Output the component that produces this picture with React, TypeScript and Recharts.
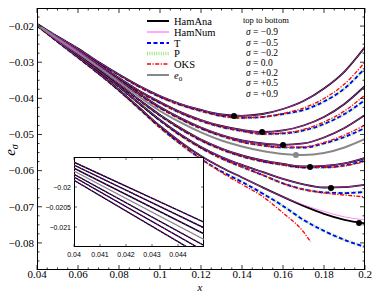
import React from "react";
import { LineChart, Line, XAxis, YAxis, ReferenceDot } from "recharts";

// x grid shared by every curve
const xs = [0.04, 0.05, 0.06, 0.07, 0.08, 0.09, 0.1, 0.11, 0.12, 0.13, 0.14, 0.15, 0.16, 0.17, 0.18, 0.19, 0.2];

// sigma = -0.9
const anaM09 = [-0.0194, -0.0229, -0.02622, -0.02995, -0.03341, -0.03659, -0.03935, -0.04156, -0.04322, -0.04447, -0.04483, -0.04433, -0.04295, -0.04074, -0.03728, -0.03258, -0.02581];
const tM09 = [-0.01943, -0.02298, -0.02634, -0.03009, -0.03355, -0.03687, -0.03963, -0.04184, -0.0435, -0.04488, -0.04538, -0.04516, -0.04433, -0.04323, -0.04087, -0.03728, -0.03162];
const oksM09 = [-0.01943, -0.02298, -0.02634, -0.03009, -0.03355, -0.03687, -0.03963, -0.04184, -0.0435, -0.04488, -0.04538, -0.04516, -0.04419, -0.04268, -0.04005, -0.03604, -0.02996];

// sigma = -0.5
const anaM05 = [-0.01948, -0.0232, -0.02664, -0.03051, -0.03438, -0.03797, -0.04101, -0.04378, -0.04599, -0.04765, -0.04875, -0.04931, -0.04889, -0.04751, -0.04516, -0.04156, -0.03659];
const tM05 = [-0.01951, -0.02334, -0.02678, -0.03065, -0.03452, -0.03825, -0.04129, -0.04406, -0.04627, -0.04793, -0.04903, -0.04986, -0.04972, -0.04889, -0.0471, -0.04432, -0.04046];
const oksM05 = [-0.01951, -0.02334, -0.02678, -0.03065, -0.03452, -0.03825, -0.04129, -0.04406, -0.04627, -0.04793, -0.04903, -0.04986, -0.04958, -0.04862, -0.04654, -0.0435, -0.03908];

// sigma = -0.2
const anaM02 = [-0.01955, -0.02336, -0.02691, -0.03092, -0.03493, -0.0388, -0.04239, -0.04544, -0.04806, -0.05014, -0.05166, -0.05249, -0.0529, -0.05249, -0.05083, -0.0482, -0.04461];
const tM02 = [-0.01958, -0.0235, -0.02705, -0.03106, -0.03507, -0.03908, -0.04267, -0.04572, -0.04834, -0.05042, -0.05207, -0.05304, -0.05359, -0.0536, -0.05249, -0.05069, -0.0482];
const oksM02 = [-0.01958, -0.0235, -0.02705, -0.03106, -0.03507, -0.03908, -0.04267, -0.04572, -0.04834, -0.05042, -0.05207, -0.05304, -0.05359, -0.05346, -0.05221, -0.05014, -0.04737];

// sigma = 0.0 (e0)
const e0 = [-0.01962, -0.0235, -0.02733, -0.03134, -0.03548, -0.03963, -0.0435, -0.04668, -0.04944, -0.05166, -0.05331, -0.05456, -0.05539, -0.05566, -0.05511, -0.05359, -0.05124];

// sigma = +0.2
const anaP02 = [-0.01968, -0.02378, -0.0276, -0.03175, -0.03604, -0.04046, -0.04461, -0.0482, -0.05138, -0.05387, -0.0558, -0.05719, -0.05815, -0.05886, -0.05868, -0.05801, -0.05649];
const tP02 = [-0.01971, -0.02392, -0.02774, -0.03189, -0.03618, -0.0406, -0.04475, -0.04848, -0.05166, -0.05415, -0.05608, -0.05747, -0.05843, -0.05914, -0.0591, -0.05856, -0.05718];
const oksP02 = [-0.01971, -0.02392, -0.02774, -0.03189, -0.03618, -0.0406, -0.04475, -0.04848, -0.05166, -0.05415, -0.05608, -0.05747, -0.05843, -0.05914, -0.0591, -0.0587, -0.05746];

// sigma = +0.5
const anaP05 = [-0.01975, -0.02392, -0.02802, -0.0323, -0.03673, -0.04143, -0.04599, -0.05, -0.05345, -0.05622, -0.05843, -0.06036, -0.0623, -0.06382, -0.06467, -0.06455, -0.06396];
const tP05 = [-0.01978, -0.02406, -0.02816, -0.03244, -0.03687, -0.04157, -0.04613, -0.05028, -0.05373, -0.05663, -0.05898, -0.06119, -0.06354, -0.0652, -0.06603, -0.06621, -0.0659];
const oksP05 = [-0.01978, -0.02406, -0.02816, -0.03244, -0.03687, -0.04157, -0.04613, -0.05028, -0.05373, -0.05663, -0.05898, -0.06119, -0.06354, -0.0652, -0.06617, -0.06676, -0.06728];

// sigma = +0.9
const anaP09 = [-0.01983, -0.0242, -0.02857, -0.03299, -0.03769, -0.04267, -0.04765, -0.05207, -0.05594, -0.05912, -0.06189, -0.06465, -0.06728, -0.06977, -0.07198, -0.07364, -0.0746];
const numP09 = [-0.01983, -0.0242, -0.02857, -0.03299, -0.03769, -0.04267, -0.04765, -0.05207, -0.05594, -0.05912, -0.06189, -0.06465, -0.06728, -0.06949, -0.07129, -0.07281, -0.07363];
const tP09 = [-0.01986, -0.02434, -0.02871, -0.03313, -0.03783, -0.04295, -0.04806, -0.05262, -0.05677, -0.06023, -0.06313, -0.06631, -0.06977, -0.07364, -0.07668, -0.07917, -0.0811];
const oksP09 = [-0.01986, -0.02434, -0.02871, -0.03313, -0.03783, -0.04295, -0.04806, -0.05262, -0.05677, -0.0605, -0.06383, -0.06714, -0.0717, -0.07695, null, null, null];
// OKS for +0.9 stops here
const oksP09EndX = 0.1735;
const oksP09EndY = -0.0797;

// minima of HamAna (black dots) and of e0 (gray dot)
const minX = [0.1361, 0.1498, 0.16, 0.1732, 0.1834, 0.1971];
const minY = [-0.0449, -0.0493, -0.0529, -0.059, -0.0648, -0.0745];
const e0MinX = 0.1663;
const e0MinY = -0.0557;

// inset (0.04 .. 0.045)
const insetX = [0.04, 0.045];
const insetM09 = [-0.01938, -0.02088];
const insetM05 = [-0.01945, -0.02102];
const insetM02 = [-0.01953, -0.02117];
const insetE0 = [-0.0196, -0.02131];
const insetP02 = [-0.01968, -0.02146];
const insetP05 = [-0.01975, -0.0216];
const insetP09 = [-0.01983, -0.02175];

const xMajor = [0.04, 0.06, 0.08, 0.1, 0.12, 0.14, 0.16, 0.18, 0.2];
const xMinor = [0.045, 0.05, 0.055, 0.065, 0.07, 0.075, 0.085, 0.09, 0.095, 0.105, 0.11, 0.115, 0.125, 0.13, 0.135, 0.145, 0.15, 0.155, 0.165, 0.17, 0.175, 0.185, 0.19, 0.195];
const yMajor = [-0.08, -0.07, -0.06, -0.05, -0.04, -0.03, -0.02];
const yMinor = [-0.085, -0.0825, -0.0775, -0.075, -0.0725, -0.0675, -0.065, -0.0625, -0.0575, -0.055, -0.0525, -0.0475, -0.045, -0.0425, -0.0375, -0.035, -0.0325, -0.0275, -0.025, -0.0225, -0.0175];
const insetXTicks = [0.04, 0.041, 0.042, 0.043, 0.044];
const insetYTicks = [-0.021, -0.0205, -0.02];

const sigmaLabels = ["\u22120.9", "\u22120.5", "\u22120.2", "0.0", "+0.2", "+0.5", "+0.9"];

const groups = [
  { id: "m09", ana: anaM09, num: anaM09, t: tM09, oks: oksM09 },
  { id: "m05", ana: anaM05, num: anaM05, t: tM05, oks: oksM05 },
  { id: "m02", ana: anaM02, num: anaM02, t: tM02, oks: oksM02 },
  { id: "p02", ana: anaP02, num: anaP02, t: tP02, oks: oksP02 },
  { id: "p05", ana: anaP05, num: anaP05, t: tP05, oks: oksP05 },
  { id: "p09", ana: anaP09, num: numP09, t: tP09, oks: oksP09 },
];

const rows: any[] = xs.map((x, i) => {
  const r: any = { x, e0: e0[i] };
  groups.forEach((g) => {
    r["ana_" + g.id] = g.ana[i];
    r["num_" + g.id] = g.num[i];
    r["t_" + g.id] = g.t[i];
    r["oks_" + g.id] = g.oks[i];
  });
  return r;
});
rows.push({ x: oksP09EndX, oks_p09: oksP09EndY });
rows.sort((a, b) => a.x - b.x);

const insetRows = insetX.map((x, i) => ({
  x,
  m09: insetM09[i],
  m05: insetM05[i],
  m02: insetM02[i],
  e0: insetE0[i],
  p02: insetP02[i],
  p05: insetP05[i],
  p09: insetP09[i],
}));

// plot frame (px)
const PL = 37;
const PR = 365;
const PT = 8;
const PB = 270;

const SERIF = "'Liberation Serif', 'Times New Roman', serif";
const SANS = "'Liberation Sans', Arial, sans-serif";

const isIn = (arr: number[], v: number) => arr.some((a) => Math.abs(a - v) < 1e-9);

function XTick(props: any) {
  const { x, payload } = props;
  const v = payload.value;
  const major = isIn(xMajor, v);
  const len = major ? 5 : 2.5;
  return (
    <g>
      <line x1={x} x2={x} y1={PB} y2={PB - len} stroke="#000" strokeWidth={0.8} />
      <line x1={x} x2={x} y1={PT} y2={PT + len} stroke="#000" strokeWidth={0.8} />
      {major && (
        <text x={x} y={PB + 8} textAnchor="middle" fontSize={11} fontFamily={SERIF} fill="#000">
          {String(Number(v.toFixed(3)))}
        </text>
      )}
    </g>
  );
}

function YTick(props: any) {
  const { y, payload } = props;
  const v = payload.value;
  const major = isIn(yMajor, v);
  const len = major ? 5 : 2.5;
  return (
    <g>
      <line x1={PL} x2={PL + len} y1={y} y2={y} stroke="#000" strokeWidth={0.8} />
      <line x1={PR} x2={PR - len} y1={y} y2={y} stroke="#000" strokeWidth={0.8} />
      {major && (
        <text x={PL - 3} y={y + 3.8} textAnchor="end" fontSize={11} fontFamily={SERIF} fill="#000">
          {"\u2212" + Math.abs(v).toFixed(2)}
        </text>
      )}
    </g>
  );
}

// inset frame (px)
const IL = 74;
const IR = 204;
const IT = 157;
const IB = 247;

function InsetXTick(props: any) {
  const { x, payload } = props;
  return (
    <g>
      <line x1={x} x2={x} y1={IB} y2={IB - 3} stroke="#000" strokeWidth={0.6} />
      <line x1={x} x2={x} y1={IT} y2={IT + 3} stroke="#000" strokeWidth={0.6} />
      <text x={x} y={IB + 10} textAnchor="middle" fontSize={7} fontFamily={SANS} fill="#000">
        {String(payload.value)}
      </text>
    </g>
  );
}

function InsetYTick(props: any) {
  const { y, payload } = props;
  return (
    <g>
      <line x1={IL} x2={IL + 3} y1={y} y2={y} stroke="#000" strokeWidth={0.6} />
      <line x1={IR} x2={IR - 3} y1={y} y2={y} stroke="#000" strokeWidth={0.6} />
      <text x={IL - 3} y={y + 2.5} textAnchor="end" fontSize={7} fontFamily={SANS} fill="#000">
        {"\u2212" + Math.abs(payload.value)}
      </text>
    </g>
  );
}

const legendRows = [
  { label: "HamAna", stroke: "#000", width: 2, dash: undefined },
  { label: "HamNum", stroke: "#ff55ff", width: 1, dash: undefined },
  { label: "T", stroke: "#0000ff", width: 2, dash: "4 2.5" },
  { label: "P", stroke: "#9be77f", width: 3.5, dash: "1 1.3" },
  { label: "OKS", stroke: "#ff0000", width: 1.3, dash: "4 1.5 1.2 1.5" },
  { label: "e0", stroke: "#888", width: 2, dash: undefined },
];
const legendY = [21, 32, 43, 53.5, 64, 75];
const sigmaY = [32, 42.2, 52.4, 62.6, 72.8, 83, 93.2];
const insetKeys = ["m09", "m05", "m02", "p02", "p05", "p09"];

export default function App() {
  return (
    <div style={{ position: "relative", width: 374, height: 293, background: "#fff" }}>
      <style>{"body{margin:0}"}</style>
      <LineChart width={374} height={293} data={rows} margin={{ top: PT, right: 374 - PR, bottom: 0, left: 0 }}>
        <XAxis
          dataKey="x"
          type="number"
          domain={[0.04, 0.2]}
          ticks={[...xMajor, ...xMinor].sort((a, b) => a - b)}
          interval={0}
          tick={(p: any) => <XTick {...p} />}
          tickLine={false}
          axisLine={false}
          height={293 - PB}
          allowDataOverflow
        />
        <YAxis
          type="number"
          domain={[-0.0875, -0.015]}
          ticks={[...yMajor, ...yMinor].sort((a, b) => a - b)}
          interval={0}
          tick={(p: any) => <YTick {...p} />}
          tickLine={false}
          axisLine={false}
          width={PL}
          allowDataOverflow
        />
        {groups.map((g) => (
          <Line key={"p" + g.id} type="monotone" dataKey={"t_" + g.id} stroke="#9be77f" strokeWidth={3.2} strokeDasharray="1 1.3" dot={false} connectNulls isAnimationActive={false} />
        ))}
        {groups.map((g) => (
          <Line key={"t" + g.id} type="monotone" dataKey={"t_" + g.id} stroke="#0000ff" strokeWidth={1.8} strokeDasharray="4 2.5" dot={false} connectNulls isAnimationActive={false} />
        ))}
        {groups.map((g) => (
          <Line key={"o" + g.id} type="monotone" dataKey={"oks_" + g.id} stroke="#ff0000" strokeWidth={1.3} strokeDasharray="4 1.5 1.2 1.5" dot={false} connectNulls isAnimationActive={false} />
        ))}
        {groups.map((g) => (
          <Line key={"a" + g.id} type="monotone" dataKey={"ana_" + g.id} stroke="#000" strokeWidth={1.8} dot={false} connectNulls isAnimationActive={false} />
        ))}
        {groups.map((g) => (
          <Line key={"n" + g.id} type="monotone" dataKey={"num_" + g.id} stroke="#ff44ff" strokeWidth={0.8} strokeOpacity={0.8} dot={false} connectNulls isAnimationActive={false} />
        ))}
        <Line type="monotone" dataKey="e0" stroke="#888" strokeWidth={2} dot={false} connectNulls isAnimationActive={false} />
        {minX.map((mx, i) => (
          <ReferenceDot key={"d" + i} x={mx} y={minY[i]} r={3} fill="#000" stroke="none" />
        ))}
        <ReferenceDot x={e0MinX} y={e0MinY} r={3} fill="#888" stroke="none" />
      </LineChart>

      {/* main frame */}
      <div style={{ position: "absolute", left: PL, top: PT, width: PR - PL, height: PB - PT, border: "1px solid #000", boxSizing: "border-box", pointerEvents: "none", marginLeft: -0.5, marginTop: -0.5 }} />

      {/* inset */}
      <div style={{ position: "absolute", left: IL, top: IT, width: IR - IL, height: IB - IT, border: "1px solid #000", boxSizing: "border-box", background: "#fff" }} />
      <div style={{ position: "absolute", left: 0, top: 0 }}>
        <LineChart width={374} height={293} data={insetRows} margin={{ top: IT, right: 374 - IR, bottom: 0, left: 0 }}>
          <XAxis dataKey="x" type="number" domain={[0.04, 0.045]} ticks={insetXTicks} interval={0} tick={(p: any) => <InsetXTick {...p} />} tickLine={false} axisLine={false} height={293 - IB} allowDataOverflow />
          <YAxis type="number" domain={[-0.0215, -0.01925]} ticks={insetYTicks} interval={0} tick={(p: any) => <InsetYTick {...p} />} tickLine={false} axisLine={false} width={IL} allowDataOverflow />
          {insetKeys.map((k) => (
            <Line key={"ia" + k} type="linear" dataKey={k} stroke="#000" strokeWidth={1.3} dot={false} isAnimationActive={false} />
          ))}
          {insetKeys.map((k) => (
            <Line key={"it" + k} type="linear" dataKey={k} stroke="#0000ff" strokeWidth={1} strokeDasharray="2 2" dot={false} isAnimationActive={false} />
          ))}
          {insetKeys.map((k) => (
            <Line key={"io" + k} type="linear" dataKey={k} stroke="#ff0000" strokeWidth={1} strokeDasharray="1 3" dot={false} isAnimationActive={false} />
          ))}
          <Line type="linear" dataKey="e0" stroke="#888" strokeWidth={1.2} dot={false} isAnimationActive={false} />
        </LineChart>
      </div>

      {/* legend, sigma list and axis titles */}
      <svg width={374} height={293} style={{ position: "absolute", left: 0, top: 0, pointerEvents: "none" }}>
        {legendRows.map((it, i) => (
          <g key={it.label}>
            <line x1={147} x2={169} y1={legendY[i]} y2={legendY[i]} stroke={it.stroke} strokeWidth={it.width} strokeDasharray={it.dash} />
            <text x={174} y={legendY[i] + 3.5} fontSize={10.5} fontFamily={SERIF} fill="#000">
              {it.label === "e0" ? (
                <>
                  <tspan fontStyle="italic">e</tspan>
                  <tspan fontSize={7} dy={2}>0</tspan>
                </>
              ) : (
                it.label
              )}
            </text>
          </g>
        ))}
        <text x={243} y={22.5} fontSize={8.5} fontFamily={SERIF} fill="#000">top to bottom</text>
        {sigmaLabels.map((s, i) => (
          <text key={s} x={246} y={sigmaY[i] + 3.3} fontSize={9.5} fontFamily={SERIF} fill="#000">
            <tspan fontStyle="italic">σ</tspan> = {s}
          </text>
        ))}
        <text transform="translate(15,150) rotate(-90)" textAnchor="middle" fontSize={15} fontFamily={SERIF} fontStyle="italic" fill="#000">
          e<tspan fontSize={10} dy={3}>σ</tspan>
        </text>
        <text x={200} y={290.6} textAnchor="middle" fontSize={11} fontFamily={SERIF} fontStyle="italic" fill="#000">x</text>
      </svg>
    </div>
  );
}
